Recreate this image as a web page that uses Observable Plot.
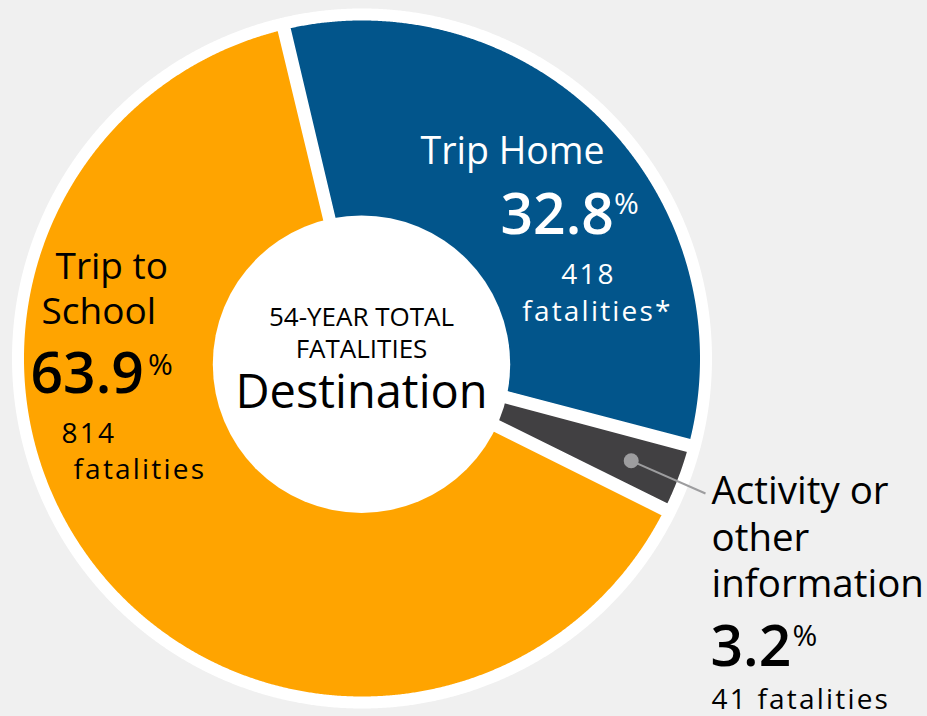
<!DOCTYPE html>
<html>
<head>
<meta charset="utf-8">
<script src="https://cdn.jsdelivr.net/npm/d3@7"></script>
<script src="https://cdn.jsdelivr.net/npm/@observablehq/plot@0.6"></script>
<style>
  html, body { margin: 0; padding: 0; background: #f0f0f0; }
  #chart svg { display: block; overflow: visible; }
  g[aria-description="small"] text { letter-spacing: 2.2px; }
</style>
</head>
<body>
<div id="chart"></div>
<script>
// ---- data ----
const categories = ["Trip Home", "Activity or other information", "Trip to School"];
const fatalities = [418, 41, 814];
const sliceColors = ["#02558b", "#414042", "#ffa400"];
const centerTitle = ["54-YEAR TOTAL", "FATALITIES"];
const centerLabel = "Destination";

// ---- layout ----
const W = 927, H = 716;
const cx = 361.5, cy = 358;        // pie centre (px)
const R = 344, R0 = 110;           // slice radii (px, before white stroke)
const holeR = 148.7;               // white centre disc
const startDeg = -13.2;

const total = d3.sum(fatalities);
const pct = fatalities.map(v => (v / total * 100).toFixed(1));

const pie = d3.pie().sort(null).startAngle(startDeg * Math.PI / 180)
  .endAngle((startDeg + 360) * Math.PI / 180);
const arcs = pie(fatalities);

const pt = (a, r) => ({x: r * Math.sin(a), y: -r * Math.cos(a)});
const polys = [];
arcs.forEach((s, i) => {
  const a0 = s.startAngle, a1 = s.endAngle, mid = (a0 + a1) / 2;
  const push = (a, r) => polys.push({name: categories[i], ...pt(a, r)});
  const seg = (from, to, r) => {
    const n = Math.max(2, Math.ceil(Math.abs(to - from) / 0.004));
    for (let k = 0; k < n; k++) push(from + (to - from) * k / n, r);
  };
  seg(mid, a1, R);
  seg(a1, a0, R0);
  seg(a0, mid, R);
  push(mid, R);
});

const grayMid = (arcs[1].startAngle + arcs[1].endAngle) / 2;
const leaderStart = pt(grayMid, 288);
const leaderEnd = {x: 705 - cx, y: 493 - cy};

// text layout (baselines in px)
const T = (t, px, py, o = {}) => Plot.text([t], {
  x: px - cx, y: py - cy, text: d => d,
  textAnchor: o.anchor || "start", lineAnchor: "bottom",
  fontSize: o.size || 37, fontWeight: o.weight || 400,
  fill: o.fill || "#000", ariaDescription: o.small ? "small" : undefined
});

const plot = Plot.plot({
  width: W, height: H, margin: 0,
  x: {domain: [-cx, W - cx], range: [0, W], axis: null},
  y: {domain: [-cy, H - cy], range: [0, H], axis: null},
  color: {domain: categories, range: sliceColors},
  style: {background: "transparent", fontFamily: "'Open Sans', sans-serif"},
  marks: [
    Plot.line(polys, {x: "x", y: "y", z: "name", fill: "name", stroke: "white",
      strokeWidth: 12, strokeLinejoin: "round", strokeLinecap: "round", curve: "linear"}),
    Plot.dot([{x: 0, y: 0}], {x: "x", y: "y", r: holeR, fill: "white", stroke: "none", dx: -0.5, dy: 5.7}),
    Plot.link([0], {x1: leaderStart.x, y1: leaderStart.y, x2: leaderEnd.x, y2: leaderEnd.y,
      stroke: "#9d9d9f", strokeWidth: 2}),
    Plot.dot([0], {x: leaderStart.x, y: leaderStart.y, r: 7.5, fill: "#9d9d9f", stroke: "none"}),

    // Trip Home
    T(categories[0], 420, 163, {size: 37.5, fill: "white"}),
    T(pct[0], 500, 233, {size: 57, weight: 600, fill: "white"}),
    T("%", 613.5, 213.5, {size: 30, fill: "white"}),
    T(String(fatalities[0]), 588, 283, {size: 28, anchor: "middle", fill: "white", small: true}),
    T("fatalities*", 597, 320, {size: 28, anchor: "middle", fill: "white", small: true}),

    // centre
    T(centerTitle[0], 361, 325, {size: 26, anchor: "middle"}),
    T(centerTitle[1], 361, 357, {size: 26, anchor: "middle"}),
    T(centerLabel, 361, 407, {size: 47, anchor: "middle"}),

    // Trip to School
    T("Trip to", 55, 278),
    T("School", 41, 323),
    T(pct[2], 30, 392, {size: 57, weight: 600}),
    T("%", 147.5, 374.5, {size: 30}),
    T(String(fatalities[2]), 61, 442, {size: 28, small: true}),
    T("fatalities", 73, 478, {size: 28, small: true}),

    // Activity or other information
    T("Activity or", 711, 503, {size: 38.5}),
    T("other", 711, 550, {size: 38.5}),
    T("information", 711, 596, {size: 38.5}),
    T(pct[1], 710, 665, {size: 57, weight: 600}),
    T("%", 792, 645.5, {size: 30}),
    T(fatalities[1] + " fatalities", 711, 708, {size: 28, small: true})
  ]
});
document.getElementById("chart").appendChild(plot);
</script>
</body>
</html>
